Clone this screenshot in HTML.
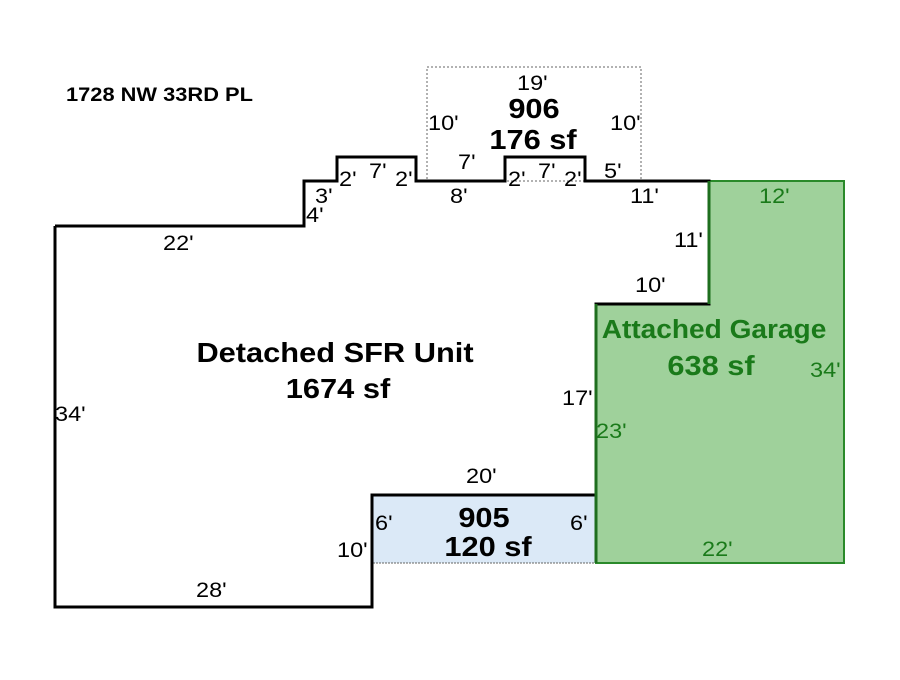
<!DOCTYPE html>
<html><head><style>body{margin:0;background:#fff}svg text{font-family:"Liberation Sans",Arial,sans-serif}</style></head><body>
<svg width="900" height="675" xmlns="http://www.w3.org/2000/svg">
<rect width="900" height="675" fill="#fff"/>
<rect x="427" y="67" width="214" height="114" fill="none" stroke="#666" stroke-width="1" stroke-dasharray="2,2"/>
<rect x="372" y="495" width="224" height="68" fill="#dbe9f7" stroke="#666" stroke-width="1" stroke-dasharray="2,1"/>
<polygon points="709,181 844,181 844,563 596,563 596,304 709,304" fill="#9fd19b" stroke="#2a8a2a" stroke-width="2"/>
<polyline points="55,226 304,226 304,181 337,181 337,157 416,157 416,181 505,181 505,157 585,157 585,181 709,181 709,304 596,304 596,495 372,495 372,607 55,607 55,226" fill="none" stroke="#000" stroke-width="3"/>
<line x1="709" y1="181" x2="709" y2="304" stroke="#1e6e1e" stroke-width="3"/>
<line x1="596" y1="304" x2="596" y2="563" stroke="#1e6e1e" stroke-width="3"/>
<g font-size="21" fill="#000">
<text transform="translate(66,101) scale(1.15,1)" font-weight="bold" font-size="19">1728 NW 33RD PL</text>
<text transform="translate(517,90) scale(1.12,1)">19'</text>
<text transform="translate(428,130) scale(1.12,1)">10'</text>
<text transform="translate(610,130) scale(1.12,1)">10'</text>
<text transform="translate(458,169) scale(1.12,1)">7'</text>
<text transform="translate(450,203) scale(1.12,1)">8'</text>
<text transform="translate(339,186) scale(1.12,1)">2'</text>
<text transform="translate(369,178) scale(1.12,1)">7'</text>
<text transform="translate(395,186) scale(1.12,1)">2'</text>
<text transform="translate(315,203) scale(1.12,1)">3'</text>
<text transform="translate(306,222) scale(1.12,1)">4'</text>
<text transform="translate(508,186) scale(1.12,1)">2'</text>
<text transform="translate(538,178) scale(1.12,1)">7'</text>
<text transform="translate(564,186) scale(1.12,1)">2'</text>
<text transform="translate(604,178) scale(1.12,1)">5'</text>
<text transform="translate(630,203) scale(1.12,1)">11'</text>
<text transform="translate(674,247) scale(1.12,1)">11'</text>
<text transform="translate(635,292) scale(1.12,1)">10'</text>
<text transform="translate(163,250) scale(1.12,1)">22'</text>
<text transform="translate(55,421) scale(1.12,1)">34'</text>
<text transform="translate(562,405) scale(1.12,1)">17'</text>
<text transform="translate(466,483) scale(1.12,1)">20'</text>
<text transform="translate(375,530) scale(1.12,1)">6'</text>
<text transform="translate(570,530) scale(1.12,1)">6'</text>
<text transform="translate(337,557) scale(1.12,1)">10'</text>
<text transform="translate(196,597) scale(1.12,1)">28'</text>
</g>
<g font-weight="bold" text-anchor="middle" fill="#000" font-size="28">
<text transform="translate(534,118) scale(1.1,1)">906</text>
<text transform="translate(533,149) scale(1.1,1)">176 sf</text>
<text transform="translate(335,362) scale(1.1,1)">Detached SFR Unit</text>
<text transform="translate(338,398) scale(1.1,1)">1674 sf</text>
<text transform="translate(484,527) scale(1.1,1)">905</text>
<text transform="translate(488,556) scale(1.1,1)">120 sf</text>
</g>
<g fill="#1a7a1a">
<text transform="translate(714,338) scale(1.08,1)" font-size="26" font-weight="bold" text-anchor="middle">Attached Garage</text>
<text transform="translate(711,375) scale(1.1,1)" font-size="28" font-weight="bold" text-anchor="middle">638 sf</text>
<text transform="translate(759,203) scale(1.12,1)" font-size="21">12'</text>
<text transform="translate(810,377) scale(1.12,1)" font-size="21">34'</text>
<text transform="translate(596,438) scale(1.12,1)" font-size="21">23'</text>
<text transform="translate(702,556) scale(1.12,1)" font-size="21">22'</text>
</g>
</svg>
</body></html>
